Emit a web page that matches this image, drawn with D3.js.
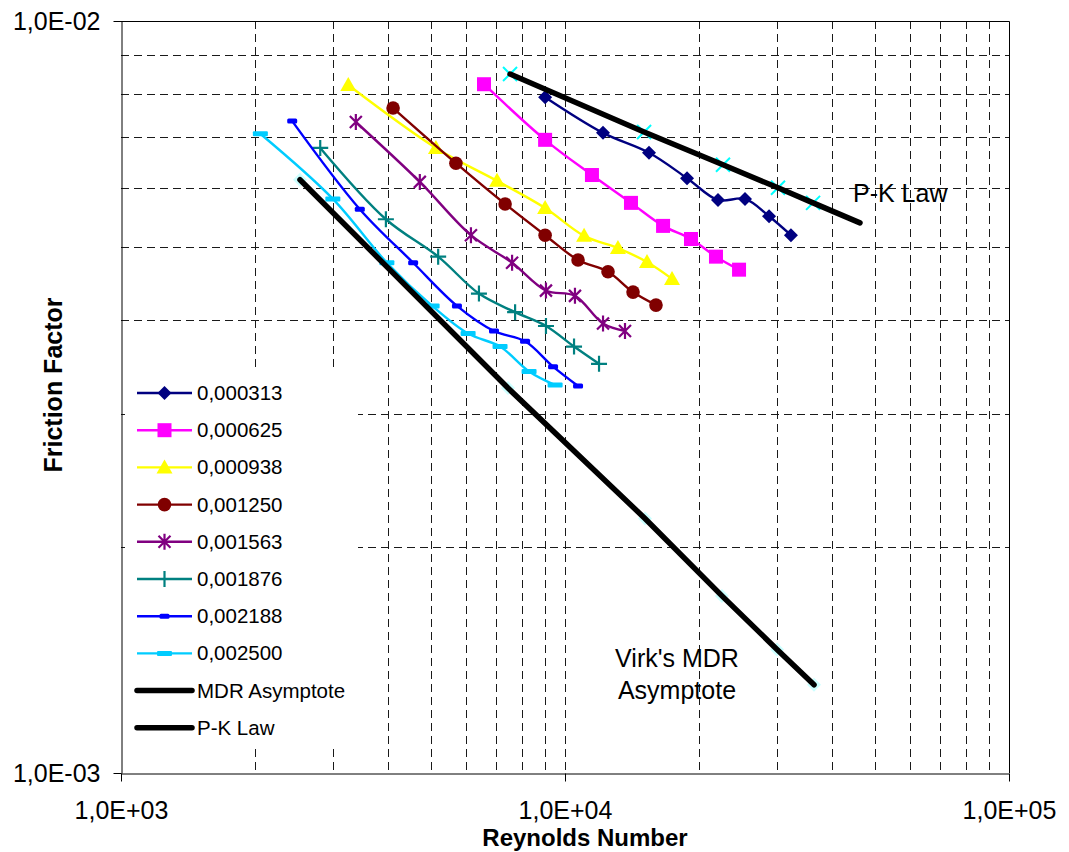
<!DOCTYPE html>
<html>
<head>
<meta charset="utf-8">
<script src="https://cdn.jsdelivr.net/npm/d3@7"></script>
<style>
  body { margin: 0; background: #fff; }
  svg { display: block; font-family: 'Liberation Sans', Arial, sans-serif; }
</style>
</head>
<body>
<svg id="chart" width="1069" height="852"></svg>
<script>
// Legend labels (concentration of each run)
const concentrations = ['0,000313', '0,000625', '0,000938', '0,001250', '0,001563', '0,001876', '0,002188', '0,002500']

// Reynolds number / friction factor
const re0313 = [9020, 12180, 15460, 18830, 22110, 25430, 28810, 32280]
const f0313 = [0.00792, 0.00710, 0.00668, 0.00618, 0.00578, 0.00580, 0.00550, 0.00519]
const re0625 = [6570, 9020, 11500, 14080, 16630, 19220, 21880, 24660]
const f0625 = [0.00824, 0.00695, 0.00624, 0.00573, 0.00534, 0.00513, 0.00486, 0.00467]
const re0938 = [3250, 5120, 7030, 9020, 11040, 13160, 15300, 17420]
const f0938 = [0.00822, 0.00678, 0.00613, 0.00564, 0.00518, 0.00499, 0.00478, 0.00454]
const re1250 = [4100, 5680, 7330, 9020, 10700, 12500, 14230, 16030]
const f1250 = [0.00766, 0.00647, 0.00571, 0.00519, 0.00481, 0.00464, 0.00436, 0.00419]
const re1563 = [3380, 4710, 6140, 7600, 9060, 10530, 12180, 13650]
const f1563 = [0.00734, 0.00611, 0.00519, 0.00477, 0.00438, 0.00431, 0.00396, 0.00387]
const re1876 = [2810, 3950, 5180, 6400, 7720, 9060, 10480, 11930]
const f1876 = [0.00678, 0.00545, 0.00486, 0.00434, 0.00410, 0.00393, 0.00369, 0.00350]
const re2188 = [2430, 3450, 4550, 5710, 6920, 8130, 9400, 10700]
const f2188 = [0.00736, 0.00562, 0.00477, 0.00418, 0.00387, 0.00375, 0.00347, 0.00327]
const re2500 = [2060, 3000, 3970, 5020, 6050, 7140, 8300, 9500]
const f2500 = [0.00708, 0.00580, 0.00477, 0.00418, 0.00384, 0.00369, 0.00342, 0.00328]

// Virk's maximum drag reduction asymptote
const reMDR = [2530, 7440, 15140, 22570, 30030, 36380]
const fMDR = [0.00615, 0.00325, 0.00218, 0.00172, 0.00146, 0.00131]

// Prandtl-Karman law (last point is the end of the black line only)
const rePK = [7520, 15070, 22690, 30180, 36200, 46170]
const fPK = [0.00850, 0.00712, 0.00644, 0.00600, 0.00573, 0.00539]

const xTickLabels = ['1,0E+03', '1,0E+04', '1,0E+05']
const yTickLabels = ['1,0E-03', '1,0E-02']

const series = [
  { name: concentrations[0], re: re0313, f: f0313, color: '#000080', marker: 'diamond' },
  { name: concentrations[1], re: re0625, f: f0625, color: '#ff00ff', marker: 'square' },
  { name: concentrations[2], re: re0938, f: f0938, color: '#ffff00', marker: 'triangle' },
  { name: concentrations[3], re: re1250, f: f1250, color: '#800000', marker: 'circle' },
  { name: concentrations[4], re: re1563, f: f1563, color: '#800080', marker: 'asterisk' },
  { name: concentrations[5], re: re1876, f: f1876, color: '#008080', marker: 'plus' },
  { name: concentrations[6], re: re2188, f: f2188, color: '#0000ff', marker: 'shortdash' },
  { name: concentrations[7], re: re2500, f: f2500, color: '#00ccff', marker: 'longdash' }
]

const svg = d3.select('#chart')
const x = d3.scaleLog().domain([1e3, 1e5]).range([121, 1009])
const y = d3.scaleLog().domain([1e-3, 1e-2]).range([773, 21])
const px = v => Math.round(v) + 0.5

/**
 * Draws one marker of the given kind at (cx, cy).
 */
function marker (g, kind, cx, cy, color) {
  const m = g.append('g').attr('transform', `translate(${cx},${cy})`)
  switch (kind) {
    case 'diamond':
    case 'faint':
      m.append('path').attr('d', 'M0,-7L7,0L0,7L-7,0Z').attr('fill', color)
      break
    case 'square':
      m.append('rect').attr('x', -7).attr('y', -7).attr('width', 14).attr('height', 14).attr('fill', color)
      break
    case 'triangle':
      m.append('path').attr('d', 'M0,-8L8,6L-8,6Z').attr('fill', color)
      break
    case 'circle':
      m.append('circle').attr('r', 6.8).attr('fill', color)
      break
    case 'asterisk':
      m.append('path').attr('d', 'M-6,-6L6,6M-6,6L6,-6M0,-8L0,8')
        .attr('stroke', color).attr('stroke-width', 2.2).attr('fill', 'none')
      break
    case 'plus':
      m.append('path').attr('d', 'M-8,0L8,0M0,-8L0,8')
        .attr('stroke', color).attr('stroke-width', 2.2).attr('fill', 'none')
      break
    case 'shortdash':
      m.append('rect').attr('x', -5).attr('y', -2.5).attr('width', 10).attr('height', 5).attr('rx', 1.5).attr('fill', color)
      break
    case 'longdash':
      m.append('rect').attr('x', -7.5).attr('y', -2.5).attr('width', 15).attr('height', 5).attr('rx', 1).attr('fill', color)
      break
    case 'cross':
      m.append('path').attr('d', 'M-7,-7L7,7M-7,7L7,-7')
        .attr('stroke', color).attr('stroke-width', 2).attr('fill', 'none')
      break
  }
}

// Gridlines
const grid = svg.append('g').attr('stroke', '#1a1a1a').attr('stroke-width', 1).attr('stroke-dasharray', '8,5')
grid.selectAll('line.v')
  .data(x.ticks().filter(d => d > 1e3 && d < 1e5))
  .enter().append('line')
  .attr('x1', d => px(x(d))).attr('x2', d => px(x(d)))
  .attr('y1', 21).attr('y2', 773)
grid.selectAll('line.h')
  .data(y.ticks().filter(d => d > 1e-3 * 1.01 && d < 1e-2 * 0.99))
  .enter().append('line')
  .attr('y1', d => px(y(d))).attr('y2', d => px(y(d)))
  .attr('x1', 121).attr('x2', 1009)

// Frame (top and right)
svg.append('path').attr('d', 'M121,21.5H1009.5V773').attr('stroke', '#000').attr('fill', 'none')

// Axes
const xAxis = svg.append('g').attr('transform', 'translate(0,773.5)')
  .call(d3.axisBottom(x).tickValues([1e3, 1e4, 1e5]).tickFormat((d, i) => xTickLabels[i])
    .tickSize(8).tickSizeOuter(0).tickPadding(20))
const yAxis = svg.append('g').attr('transform', 'translate(121.5,0)')
  .call(d3.axisLeft(y).tickValues([1e-3, 1e-2]).tickFormat((d, i) => yTickLabels[i])
    .tickSize(8).tickSizeOuter(0).tickPadding(13))
for (const a of [xAxis, yAxis]) {
  a.attr('font-family', null).attr('font-size', null)
  a.selectAll('text').attr('font-size', 25).attr('fill', '#000')
  a.selectAll('line,path').attr('stroke', '#000')
}
yAxis.selectAll('.tick').attr('transform', d => `translate(0,${px(y(d))})`)
xAxis.selectAll('.tick').attr('transform', d => `translate(${px(x(d))},0)`)

// Series lines and markers
const line = d3.line().x(d => x(d[0])).y(d => y(d[1])).curve(d3.curveCatmullRom)
const plot = svg.append('g')
series.forEach(s => {
  const pts = s.re.map((r, i) => [r, s.f[i]])
  plot.append('path').attr('d', line(pts)).attr('fill', 'none')
    .attr('stroke', s.color).attr('stroke-width', 2.4)
  pts.forEach(p => marker(plot, s.marker, x(p[0]), y(p[1]), s.color))
})

// Hidden-series markers lying under the black laws
fMDR.forEach((f, i) => marker(plot, 'faint', x(reMDR[i]), y(f), '#ccffff'))
fPK.slice(0, 5).forEach((f, i) => marker(plot, 'cross', x(rePK[i]), y(f), '#00ffff'))

const straight = d3.line().x(d => x(d[0])).y(d => y(d[1]))
plot.append('path').attr('d', straight(reMDR.map((r, i) => [r, fMDR[i]])))
  .attr('fill', 'none').attr('stroke', '#000').attr('stroke-width', 5.5).attr('stroke-linecap', 'round')
plot.append('path').attr('d', straight(rePK.map((r, i) => [r, fPK[i]])))
  .attr('fill', 'none').attr('stroke', '#000').attr('stroke-width', 5.5).attr('stroke-linecap', 'round')

// Annotations
svg.append('text').attr('x', 853).attr('y', 202).attr('font-size', 25).text('P-K Law')
svg.append('text').attr('x', 677).attr('y', 667).attr('font-size', 25).attr('text-anchor', 'middle').text("Virk's MDR")
svg.append('text').attr('x', 677).attr('y', 699).attr('font-size', 25).attr('text-anchor', 'middle').text('Asymptote')

// Axis titles
svg.append('text').attr('x', 585).attr('y', 846).attr('font-size', 24).attr('font-weight', 'bold')
  .attr('text-anchor', 'middle').text('Reynolds Number')
svg.append('text').attr('transform', 'translate(62,385) rotate(-90)').attr('font-size', 25)
  .attr('font-weight', 'bold').attr('text-anchor', 'middle').text('Friction Factor')

// Legend
const legend = svg.append('g')
legend.append('rect').attr('x', 125).attr('y', 367).attr('width', 233).attr('height', 380).attr('fill', '#fff')
const legendItems = series.concat([
  { name: 'MDR Asymptote', color: '#000', marker: null, thick: true },
  { name: 'P-K Law', color: '#000', marker: null, thick: true }
])
legendItems.forEach((s, i) => {
  const ly = 393 + i * 37.2
  legend.append('line').attr('x1', 137).attr('x2', 192).attr('y1', ly).attr('y2', ly)
    .attr('stroke', s.color).attr('stroke-width', s.thick ? 5.5 : 2.4).attr('stroke-linecap', s.thick ? 'round' : 'butt')
  if (s.marker) marker(legend, s.marker, 164.5, ly, s.color)
  legend.append('text').attr('x', 197).attr('y', ly + 7).attr('font-size', 20.5).text(s.name)
})
</script>
</body>
</html>
